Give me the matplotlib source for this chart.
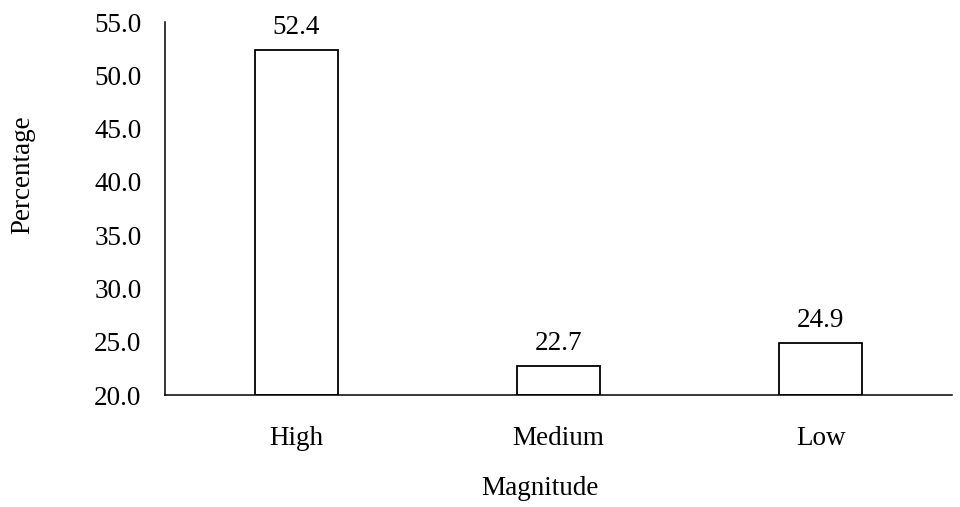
import matplotlib
matplotlib.use("Agg")
import matplotlib.pyplot as plt

categories = ["High", "Medium", "Low"]
percentages = [52.4, 22.7, 24.9]
y_ticks = [20.0, 25.0, 30.0, 35.0, 40.0, 45.0, 50.0, 55.0]

plt.rcParams['font.family'] = ['Liberation Serif', 'DejaVu Serif']
fs = 19.5

fig = plt.figure(figsize=(9.6, 5.07), dpi=100)
ax = fig.add_axes([0.1719, 0.2209, 0.8198, 0.7357])

x = range(len(categories))
bars = ax.bar(x, [p - 20 for p in percentages], bottom=20, width=0.316,
              color="white", edgecolor="black", linewidth=1.3)

for xi, p in zip(x, percentages):
    ax.text(xi, p + 1.5, "%.1f" % p, ha="center", va="baseline", fontsize=fs)

ax.set_xlim(-0.5, 2.5)
ax.set_ylim(20, 55)
ax.set_yticks(y_ticks)
ax.set_yticklabels(["%.1f" % t for t in y_ticks], fontsize=fs)
ax.set_xticks(list(x))
ax.set_xticklabels(categories, fontsize=fs)
ax.tick_params(axis="y", length=0, pad=17)
ax.tick_params(axis="x", length=0, pad=22)

for side in ["top", "right"]:
    ax.spines[side].set_visible(False)
ax.spines["left"].set_linewidth(1.1)
ax.spines["bottom"].set_linewidth(1.1)

fig.text(0.024, 0.655, "Percentage", rotation=90, ha="center", va="center", fontsize=fs)
fig.text(0.5625, 0.037, "Magnitude", ha="center", va="center", fontsize=fs)

fig.savefig("out.png", dpi=100)
